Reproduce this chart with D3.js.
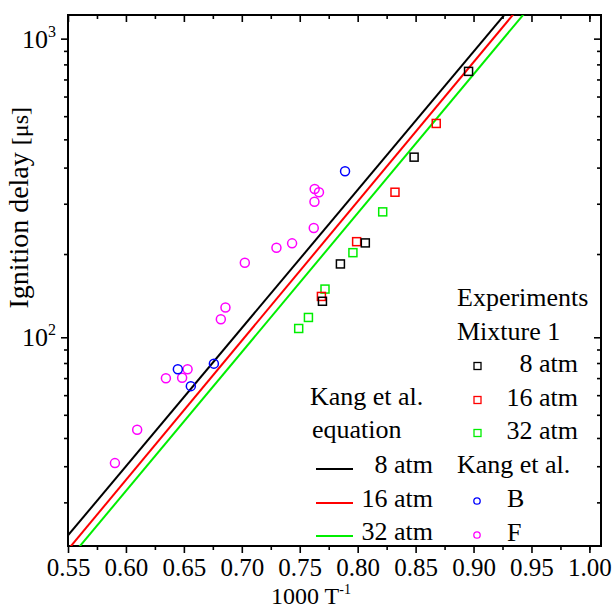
<!DOCTYPE html>
<html>
<head>
<meta charset="utf-8">
<script src="https://cdn.jsdelivr.net/npm/d3@7"></script>
<style>
  body { margin: 0; background: #fff; }
  text { font-family: "Liberation Serif", "Times New Roman", serif; fill: #000; }
</style>
</head>
<body>
<svg></svg>
<script>
// axis ticks
let xMajorTicks = [0.55, 0.60, 0.65, 0.70, 0.75, 0.80, 0.85, 0.90, 0.95, 1.00]
let xMinorTicks = [0.575, 0.625, 0.675, 0.725, 0.775, 0.825, 0.875, 0.925, 0.975, 1.0]
let yMajorTicks = [100, 1000]
let yMinorTicks = [28, 37, 46, 55, 64, 73, 82, 91, 190, 280, 370, 460, 550, 640, 730, 820, 910]

// Kang et al. equation lines (1000/T, ignition delay in us), read at two ends
let eq8 = [[0.55, 21.7], [0.95, 1541]]
let eq16 = [[0.55, 19.45], [0.95, 1427]]
let eq32 = [[0.55, 17.9], [0.95, 1297]]

// experiments, mixture 1
let exp8 = [[0.8957, 777], [0.8487, 401], [0.8066, 207], [0.7851, 176], [0.7696, 132]]
let exp16 = [[0.8678, 520], [0.8322, 306], [0.7991, 209], [0.7687, 137]]
let exp32 = [[0.8216, 263], [0.7959, 192], [0.7718, 145], [0.7575, 116.5], [0.7491, 107]]

// Kang et al. data
let kangB = [[0.6448, 78.1], [0.6560, 68.6], [0.6759, 81.6], [0.7891, 359.8]]
let kangF = [[0.5905, 37.9], [0.6097, 49.0], [0.6345, 72.9], [0.6485, 73.2], [0.6532, 78.1],
             [0.6819, 114.9], [0.6859, 125.8], [0.7026, 177.6], [0.7299, 199.3], [0.7434, 206.3],
             [0.7621, 232.2], [0.7627, 284.4], [0.7629, 313.8], [0.7666, 305.9]]

let width = 613
let height = 610
let pLeft = 68, pRight = 601, pTop = 15, pBottom = 546

let svg = d3.select('svg')
            .attr('width', width)
            .attr('height', height)

let xScale = d3.scaleLinear().domain([0.55, 1.01]).range([pLeft, pRight])
let yScale = d3.scaleLog().domain([20, 1200]).range([pBottom, pTop])

svg.append('clipPath').attr('id', 'plot')
   .append('rect')
   .attr('x', pLeft).attr('y', pTop)
   .attr('width', pRight - pLeft).attr('height', pBottom - pTop)

// axes
let addAxis = (axis, tx, ty) => {
  let g = svg.append('g')
             .attr('transform', `translate(${tx}, ${ty})`)
             .call(axis)
  g.select('.domain').remove()
  g.selectAll('line').attr('stroke', '#000').attr('stroke-width', 1.6)
  return g
}

let xb = addAxis(d3.axisBottom(xScale).tickValues(xMajorTicks).tickSize(7).tickFormat(d3.format('.2f')), 0, pBottom)
xb.selectAll('text')
  .attr('y', 12)
  .style('font-size', '25px')
  .style('font-family', '"Liberation Serif", serif')
addAxis(d3.axisBottom(xScale).tickValues(xMinorTicks).tickSize(4).tickFormat(''), 0, pBottom)
addAxis(d3.axisBottom(xScale).tickValues(xMajorTicks).tickSize(7).tickFormat(''), 0, pTop)
addAxis(d3.axisBottom(xScale).tickValues(xMinorTicks).tickSize(4).tickFormat(''), 0, pTop)

addAxis(d3.axisLeft(yScale).tickValues(yMajorTicks).tickSize(7).tickFormat(''), pLeft, 0)
addAxis(d3.axisLeft(yScale).tickValues(yMinorTicks).tickSize(4).tickFormat(''), pLeft, 0)
addAxis(d3.axisLeft(yScale).tickValues(yMajorTicks).tickSize(7).tickFormat(''), pRight, 0)
addAxis(d3.axisLeft(yScale).tickValues(yMinorTicks).tickSize(4).tickFormat(''), pRight, 0)

// y tick labels as powers of ten
yMajorTicks.forEach(v => {
  let t = svg.append('text')
             .attr('x', 56)
             .attr('y', yScale(v) + 9)
             .attr('text-anchor', 'end')
             .style('font-size', '26px')
  t.append('tspan').text('10')
  t.append('tspan').attr('dy', -11).style('font-size', '16px').text(Math.log10(v))
})

// frame
svg.append('rect')
   .attr('x', pLeft).attr('y', pTop)
   .attr('width', pRight - pLeft).attr('height', pBottom - pTop)
   .attr('fill', 'none').attr('stroke', '#000').attr('stroke-width', 2)

// axis titles
let xt = svg.append('text')
            .attr('x', 271).attr('y', 604)
            .style('font-size', '24px')
xt.append('tspan').text('1000 T')
xt.append('tspan').attr('dy', -10).style('font-size', '14px').text('-1')

let yt = svg.append('text')
            .attr('transform', 'translate(28, 107) rotate(-90)')
            .attr('text-anchor', 'end')
            .style('font-size', '28px')
yt.append('tspan').text('Ignition delay ')
yt.append('tspan').style('font-size', '24px').text('[\u03bcs]')

// equation lines
let lineGen = d3.line().x(d => xScale(d[0])).y(d => yScale(d[1]))
let eqSeries = [[eq8, '#000000'], [eq16, '#ff0000'], [eq32, '#00ee00']]
svg.append('g').attr('clip-path', 'url(#plot)')
   .selectAll('path')
   .data(eqSeries)
   .enter()
   .append('path')
   .attr('d', d => lineGen(d[0]))
   .attr('stroke', d => d[1])
   .attr('stroke-width', 2)
   .attr('fill', 'none')

// markers
let drawSquares = (data, color) => {
  svg.append('g').selectAll('rect')
     .data(data)
     .enter()
     .append('rect')
     .attr('x', d => xScale(d[0]) - 4)
     .attr('y', d => yScale(d[1]) - 4)
     .attr('width', 8).attr('height', 8)
     .attr('fill', 'none').attr('stroke', color).attr('stroke-width', 1.5)
}
let drawCircles = (data, color) => {
  svg.append('g').selectAll('circle')
     .data(data)
     .enter()
     .append('circle')
     .attr('cx', d => xScale(d[0]))
     .attr('cy', d => yScale(d[1]))
     .attr('r', 4.5)
     .attr('fill', 'none').attr('stroke', color).attr('stroke-width', 1.5)
}
drawCircles(kangF, '#ff00ff')
drawCircles(kangB, '#0000ff')
drawSquares(exp32, '#00ee00')
drawSquares(exp16, '#ff0000')
drawSquares(exp8, '#000000')

// legend: experiments (right)
let lg = svg.append('g').style('font-size', '26px')
lg.append('text').attr('x', 457).attr('y', 306).text('Experiments')
lg.append('text').attr('x', 457).attr('y', 340).text('Mixture 1')
let sqItems = [['8 atm', '#000000', 372], ['16 atm', '#ff0000', 406], ['32 atm', '#00ee00', 439]]
sqItems.forEach(d => {
  lg.append('rect').attr('x', 474).attr('y', d[2] - 9.5).attr('width', 7).attr('height', 7)
    .attr('fill', 'none').attr('stroke', d[1]).attr('stroke-width', 1.3)
  lg.append('text').attr('x', 578).attr('y', d[2]).attr('text-anchor', 'end').text(d[0])
})
lg.append('text').attr('x', 457).attr('y', 473).text('Kang et al.')
let ciItems = [['B', '#0000ff', 507], ['F', '#ff00ff', 541]]
ciItems.forEach(d => {
  lg.append('circle').attr('cx', 477).attr('cy', d[2] - 6).attr('r', 3.2)
    .attr('fill', 'none').attr('stroke', d[1]).attr('stroke-width', 1.3)
  lg.append('text').attr('x', 507).attr('y', d[2]).text(d[0])
})

// legend: equation (left)
lg.append('text').attr('x', 310).attr('y', 405).text('Kang et al.')
lg.append('text').attr('x', 312).attr('y', 438).text('equation')
let lnItems = [['8 atm', '#000000', 473], ['16 atm', '#ff0000', 507], ['32 atm', '#00ee00', 540]]
lnItems.forEach(d => {
  lg.append('line').attr('x1', 316).attr('x2', 353).attr('y1', d[2] - 4).attr('y2', d[2] - 4)
    .attr('stroke', d[1]).attr('stroke-width', 2)
  lg.append('text').attr('x', 433).attr('y', d[2]).attr('text-anchor', 'end').text(d[0])
})
</script>
</body>
</html>
